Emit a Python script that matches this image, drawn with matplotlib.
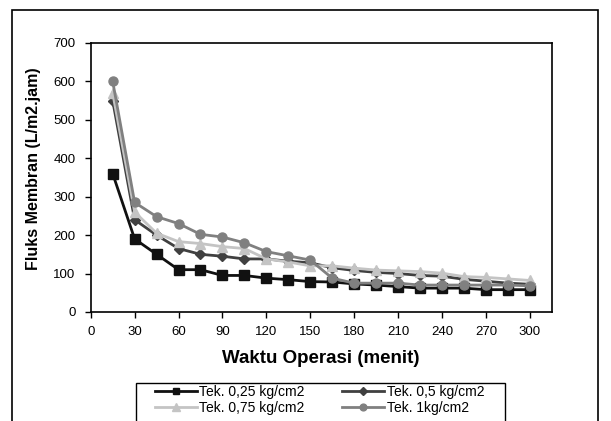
import matplotlib
matplotlib.use('agg')
import matplotlib.pyplot as plt
from matplotlib.patches import Rectangle

plt.rcParams['font.family'] = ['Liberation Sans', 'DejaVu Sans']

# Waktu operasi (menit)
waktu = [15, 30, 45, 60, 75, 90, 105, 120, 135, 150,
         165, 180, 195, 210, 225, 240, 255, 270, 285, 300]

# Fluks membran (L/m2.jam) for each pressure
fluks_025 = [360, 190, 150, 110, 110, 95, 95, 88, 84, 79,
             78, 73, 70, 66, 62, 62, 62, 58, 58, 58]
fluks_05 = [550, 240, 200, 165, 150, 145, 138, 138, 132, 128,
            115, 108, 103, 100, 95, 93, 85, 80, 75, 72]
fluks_075 = [570, 260, 205, 183, 178, 170, 165, 138, 130, 120,
             120, 114, 109, 107, 105, 101, 92, 90, 86, 82]
fluks_1 = [600, 285, 248, 230, 202, 195, 180, 157, 146, 135,
           88, 75, 75, 75, 70, 70, 70, 70, 70, 68]

labels = ["Tek. 0,25 kg/cm2", "Tek. 0,5 kg/cm2", "Tek. 0,75 kg/cm2", "Tek. 1kg/cm2"]

fig = plt.figure(figsize=(6.11, 4.21), dpi=100)
ax = fig.add_axes([0.1485, 0.259, 0.7545, 0.639])

# outer chart border (runs off the bottom edge)
fig.patches.append(Rectangle((12 / 611, -0.05), 586 / 611, 1 - 10 / 421 + 0.05,
                             transform=fig.transFigure, fill=False,
                             edgecolor='black', linewidth=1.2))
# legend box, also cut off at the bottom
fig.patches.append(Rectangle((136 / 611, -0.05), 369 / 611, 1 - 383 / 421 + 0.05,
                             transform=fig.transFigure, fill=False,
                             edgecolor='black', linewidth=1))

l1, = ax.plot(waktu, fluks_025, color='#111111', marker='s', markersize=6.5, linewidth=2, label=labels[0])
l2, = ax.plot(waktu, fluks_05, color='#404040', marker='D', markersize=5, linewidth=2, label=labels[1])
l3, = ax.plot(waktu, fluks_075, color='#c4c4c4', marker='^', markersize=7.5, linewidth=2, label=labels[2])
l4, = ax.plot(waktu, fluks_1, color='#808080', marker='o', markersize=6.5, linewidth=2, label=labels[3])

ax.set_xlim(0, 315)
ax.set_ylim(0, 700)
ax.set_xticks(range(0, 301, 30))
ax.set_yticks(range(0, 701, 100))
ax.tick_params(direction='out', length=4, width=1, labelsize=9.5, pad=6)
ax.tick_params(axis='y', pad=7)
for s in ax.spines.values():
    s.set_linewidth(1.2)

ax.set_xlabel("Waktu Operasi (menit)", fontsize=13.5, fontweight='bold', labelpad=9)
ax.set_ylabel("Fluks Membran (L/m2.jam)", fontsize=11.5, fontweight='bold')
ax.yaxis.set_label_coords(-0.108, 0.532)

# row-major order like the original legend
leg = ax.legend([l1, l3, l2, l4], [labels[0], labels[2], labels[1], labels[3]],
                loc='upper left', bbox_to_anchor=(155 / 611, 1 - 385 / 421),
                bbox_transform=fig.transFigure, ncol=2, fontsize=10,
                frameon=False, borderpad=0, borderaxespad=0,
                handlelength=3.0, columnspacing=2.7,
                labelspacing=0.15, handletextpad=0.2, markerscale=0.75)

fig.savefig('out.png', dpi=100)
